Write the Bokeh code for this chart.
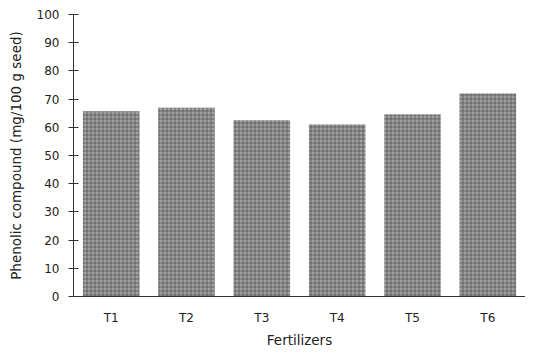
from bokeh.plotting import figure
from bokeh.models import ColumnDataSource, FactorRange, Range1d, FixedTicker
from bokeh.embed import file_html
from bokeh.resources import INLINE

treatments = ["T1", "T2", "T3", "T4", "T5", "T6"]
phenolic = [65.7, 66.9, 62.5, 61.0, 64.5, 72.0]
y_ticks = [0, 10, 20, 30, 40, 50, 60, 70, 80, 90, 100]

src = ColumnDataSource(dict(x=treatments, y=phenolic))

p = figure(x_range=FactorRange(*treatments, range_padding=0), y_range=Range1d(0, 100),
           frame_width=452, frame_height=282, output_backend="svg", toolbar_location=None,
           min_border_left=73, min_border_right=0, min_border_top=14, min_border_bottom=48)
p.outline_line_color = None
p.xgrid.grid_line_color = None
p.ygrid.grid_line_color = None

p.vbar(x="x", top="y", width=0.75, source=src, fill_color="#a0a0a0", line_color=None,
       hatch_pattern="cross", hatch_color="#505050", hatch_scale=4, hatch_weight=1, hatch_alpha=0.7)

font = "DejaVu Sans"
p.yaxis.ticker = FixedTicker(ticks=y_ticks)
p.yaxis.axis_label = "Phenolic compound (mg/100 g seed)"
p.xaxis.axis_label = "Fertilizers"
for ax in (p.xaxis[0], p.yaxis[0]):
    ax.axis_line_color = "#333333"
    ax.major_tick_line_color = "#333333"
    ax.major_label_text_font = font
    ax.major_label_text_font_size = "12px"
    ax.major_label_text_color = "#222222"
    ax.axis_label_text_font = font
    ax.axis_label_text_font_size = "13.5px"
    ax.axis_label_text_font_style = "normal"
    ax.axis_label_text_color = "#222222"
    ax.minor_tick_line_color = None
p.yaxis.major_tick_in = 5
p.yaxis.major_tick_out = 5
p.yaxis.major_label_standoff = 9
p.yaxis.axis_label_standoff = 10
p.xaxis.major_tick_line_color = None
p.xaxis.major_tick_in = 0
p.xaxis.major_tick_out = 0
p.xaxis.major_label_standoff = 14
p.xaxis.axis_label_standoff = 4

open("out.html", "w").write(file_html(p, INLINE))
